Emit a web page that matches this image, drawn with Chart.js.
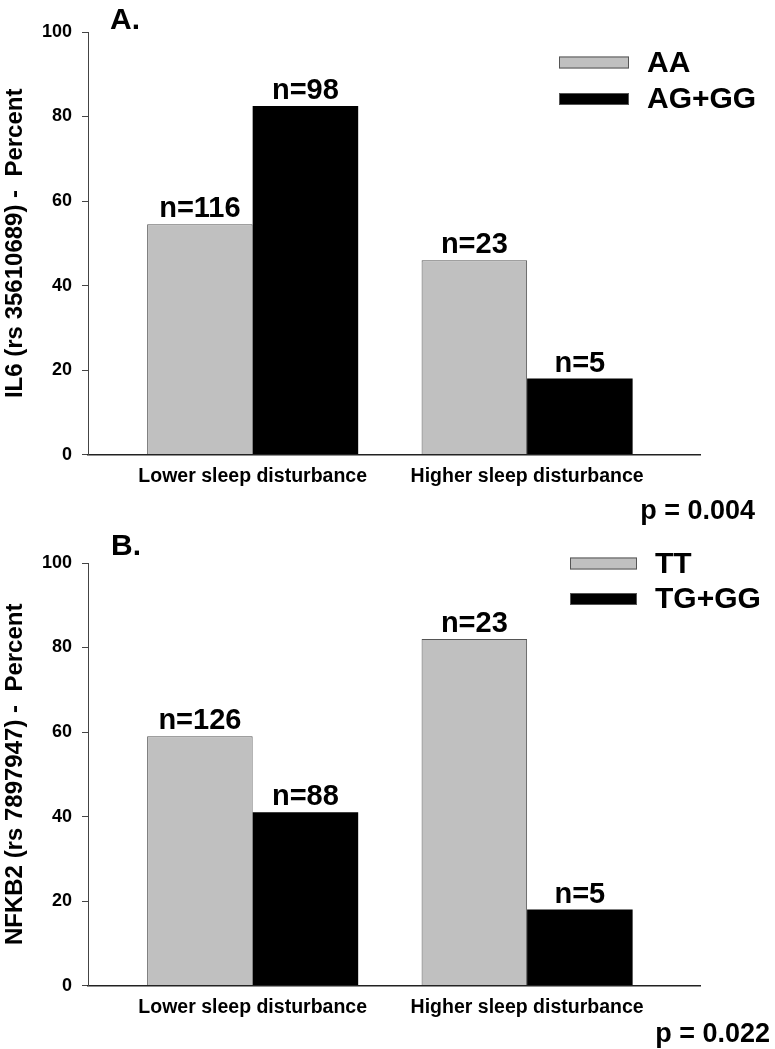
<!DOCTYPE html>
<html>
<head>
<meta charset="utf-8">
<script src="https://cdn.jsdelivr.net/npm/chart.js@4.4.1/dist/chart.umd.min.js"></script>
<style>
  body { margin: 0; background: #fff; }
  .panel { position: absolute; left: 0; width: 775px; }
</style>
</head>
<body>
<div class="panel" style="top:0;height:525px"><canvas id="chartA" width="775" height="525"></canvas></div>
<div class="panel" style="top:525px;height:524px"><canvas id="chartB" width="775" height="524"></canvas></div>
<script>
// values (percent)
var categories = ['Lower sleep disturbance', 'Higher sleep disturbance'];

var il6Groups = ['AA', 'AG+GG'];
var il6AA = [54.5, 46];
var il6AGGG = [82.5, 18];
var il6CountsAA = ['n=116', 'n=23'];
var il6CountsAGGG = ['n=98', 'n=5'];

var nfkbGroups = ['TT', 'TG+GG'];
var nfkbTT = [59, 82];
var nfkbTGGG = [41, 18];
var nfkbCountsTT = ['n=126', 'n=23'];
var nfkbCountsTGGG = ['n=88', 'n=5'];

var yMin = 0, yMax = 100, yStep = 20;

var FONT = "'Liberation Sans', Arial, Helvetica, sans-serif";
var GRAY = '#c0c0c0';

// n= labels above each bar
var countLabels = {
  id: 'countLabels',
  afterDatasetsDraw: function (chart, args, o) {
    var ctx = chart.ctx;
    ctx.save();
    ctx.font = 'bold 29px ' + FONT;
    ctx.fillStyle = '#000';
    ctx.textAlign = 'center';
    ctx.textBaseline = 'alphabetic';
    chart.data.datasets.forEach(function (ds, d) {
      chart.getDatasetMeta(d).data.forEach(function (bar, i) {
        ctx.fillText(o.counts[d][i], bar.x, bar.y - 7);
      });
    });
    ctx.restore();
  }
};

// legend: long flat swatches with text on the right
var boxLegend = {
  id: 'boxLegend',
  afterDraw: function (chart, args, o) {
    var ctx = chart.ctx;
    ctx.save();
    ctx.font = 'bold 30px ' + FONT;
    ctx.textBaseline = 'middle';
    chart.data.datasets.forEach(function (ds, i) {
      var y = o.y + i * o.gap;
      ctx.fillStyle = ds.backgroundColor;
      ctx.fillRect(o.x, y - 6, o.w, 12);
      ctx.strokeStyle = '#555';
      ctx.lineWidth = 1;
      ctx.strokeRect(o.x + 0.5, y - 5.5, o.w - 1, 11);
      ctx.fillStyle = '#000';
      ctx.fillText(ds.label, o.x + o.w + 18, y + 1);
    });
    ctx.restore();
  }
};

// panel letter and p value
var panelText = {
  id: 'panelText',
  afterDraw: function (chart, args, o) {
    var ctx = chart.ctx;
    ctx.save();
    ctx.fillStyle = '#000';
    ctx.textBaseline = 'alphabetic';
    ctx.font = 'bold 30px ' + FONT;
    ctx.textAlign = 'left';
    ctx.fillText(o.letter, o.letterX, o.letterY);
    ctx.font = 'bold 27px ' + FONT;
    ctx.textAlign = 'right';
    ctx.fillText(o.p, o.pX, o.pY);
    ctx.restore();
  }
};

function makePanel(id, p) {
  var toPoints = function (vals) {
    return vals.map(function (v, i) { return { x: i + 1, y: v }; });
  };
  return new Chart(document.getElementById(id), {
    type: 'bar',
    data: {
      datasets: [{
        label: p.groups[0],
        data: toPoints(p.first),
        backgroundColor: GRAY,
        borderColor: '#555',
        borderWidth: 1
      }, {
        label: p.groups[1],
        data: toPoints(p.second),
        backgroundColor: '#000',
        borderColor: '#000',
        borderWidth: 0
      }]
    },
    options: {
      responsive: false,
      animation: false,
      categoryPercentage: 0.769,
      barPercentage: 1,
      layout: { padding: { top: p.padTop, right: 75, bottom: p.padBottom, left: 0 } },
      scales: {
        x: {
          type: 'linear',
          offset: false,
          min: 0.4,
          max: 2.63,
          afterBuildTicks: function (s) {
            s.ticks = categories.map(function (c, i) { return { value: i + 1 }; });
          },
          grid: { display: false, drawTicks: false, offset: false },
          border: { display: true, color: '#222', width: 1.5 },
          ticks: {
            padding: 10,
            color: '#000',
            font: { family: FONT, size: 19.5, weight: 'bold' },
            callback: function (v) { return categories[v - 1]; }
          }
        },
        y: {
          min: yMin,
          max: yMax,
          afterFit: function (s) { s.width = 88; },
          grid: { drawOnChartArea: false, drawTicks: true, tickLength: 6, color: '#444' },
          border: { display: true, color: '#444', width: 1 },
          ticks: {
            stepSize: yStep,
            padding: 10,
            color: '#000',
            font: { family: FONT, size: 18, weight: 'bold' }
          },
          title: {
            display: true,
            text: p.title,
            color: '#000',
            padding: { top: 1, bottom: 0 },
            font: { family: FONT, size: 24, weight: 'bold' }
          }
        }
      },
      plugins: {
        legend: { display: false },
        tooltip: { enabled: false },
        countLabels: { counts: [p.firstN, p.secondN] },
        boxLegend: p.legend,
        panelText: p.text
      }
    },
    plugins: [countLabels, boxLegend, panelText]
  });
}

makePanel('chartA', {
  title: 'IL6 (rs 35610689) -  Percent',
  groups: il6Groups,
  first: il6AA, second: il6AGGG,
  firstN: il6CountsAA, secondN: il6CountsAGGG,
  padTop: 32, padBottom: 27,
  legend: { x: 559, y: 62.5, gap: 36.5, w: 70 },
  text: { letter: 'A.', letterX: 110, letterY: 29, p: 'p = 0.004', pX: 755, pY: 519 }
});

makePanel('chartB', {
  title: 'NFKB2 (rs 7897947) -  Percent',
  groups: nfkbGroups,
  first: nfkbTT, second: nfkbTGGG,
  firstN: nfkbCountsTT, secondN: nfkbCountsTGGG,
  padTop: 38, padBottom: 20,
  legend: { x: 570, y: 38.5, gap: 35.5, w: 67 },
  text: { letter: 'B.', letterX: 111, letterY: 30, p: 'p = 0.022', pX: 770, pY: 517 }
});
</script>
</body>
</html>
